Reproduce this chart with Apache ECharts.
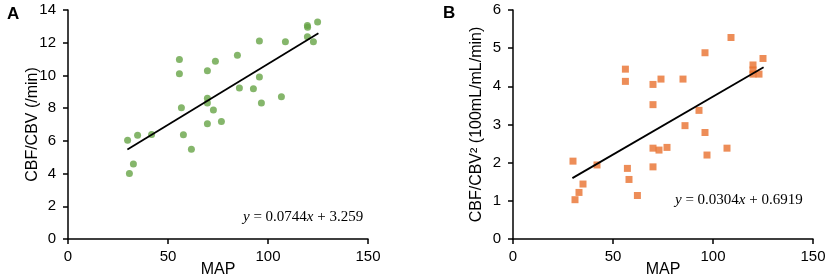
<!DOCTYPE html>
<html>
<head>
<meta charset="utf-8">
<script src="https://cdn.jsdelivr.net/npm/echarts@6/dist/echarts.min.js"></script>
<style>
html, body { margin: 0; padding: 0; background: #fff; }
#chart { width: 829px; height: 277px; }
</style>
</head>
<body>
<div id="chart"></div>
<script>
// 数据：A 图 MAP 与 CBF/CBV
var mapA = [29.8, 34.8, 41.8, 32.7, 30.7, 55.7, 55.7, 56.7, 57.7, 61.7,
            69.7, 73.7, 69.7, 69.7, 72.7, 69.7, 76.7, 84.7, 85.7, 92.7,
            95.7, 95.7, 96.7, 108.7, 106.7, 119.7, 119.8, 119.7, 122.7, 124.8];
var ratioA = [6.04, 6.35, 6.39, 4.58, 4.0, 10.98, 10.1, 8.03, 6.37, 5.49,
              10.29, 10.86, 8.6, 8.32, 7.89, 7.04, 7.18, 11.23, 9.23, 9.19,
              12.1, 9.9, 8.32, 12.06, 8.7, 13.06, 12.95, 12.37, 12.06, 13.26];

// 数据：B 图 MAP 与 CBF/CBV²
var mapB = [30, 31, 33, 35, 42, 56.2, 56.2, 57.2, 58, 62.2,
            70, 74, 70, 70, 73, 77, 70, 85, 86, 93,
            96, 96, 97, 109, 107, 120, 120, 120, 123, 125];
var ratioB = [2.04, 1.03, 1.22, 1.44, 1.94, 4.45, 4.13, 1.85, 1.56, 1.14,
              4.05, 4.19, 3.52, 2.38, 2.33, 2.4, 1.89, 4.19, 2.97, 3.37,
              4.88, 2.79, 2.2, 5.28, 2.38, 4.56, 4.43, 4.32, 4.32, 4.73];

// 趋势线
var fitA = { slope: 0.0744, intercept: 3.259, from: 29.7, to: 125.2 };
var fitB = { slope: 0.0304, intercept: 0.6919, from: 29.7, to: 125.3 };

function pairs(xs, ys) {
    var out = [];
    for (var i = 0; i < xs.length; i++) out.push([xs[i], ys[i]]);
    return out;
}
function fitLine(f) {
    return [[f.from, f.slope * f.from + f.intercept], [f.to, f.slope * f.to + f.intercept]];
}

var sans = 'Liberation Sans, Arial, sans-serif';
var serif = 'Liberation Serif, Times New Roman, serif';

function xAxisOf(idx) {
    return {
        gridIndex: idx, type: 'value', min: 0, max: 150, interval: 50,
        name: 'MAP', nameLocation: 'middle', nameGap: 23, nameMoveOverlap: false,
        nameTextStyle: { fontFamily: sans, fontSize: 16, color: '#000' },
        axisLine: { lineStyle: { color: '#000', width: 1.5 } },
        axisTick: { show: true, length: 5, lineStyle: { color: '#000', width: 1.5 } },
        axisLabel: { fontFamily: sans, fontSize: 15, color: '#000', margin: 10 },
        splitLine: { show: false }
    };
}
function yAxisOf(idx, max, interval, name, gap) {
    return {
        gridIndex: idx, type: 'value', min: 0, max: max, interval: interval,
        name: name, nameLocation: 'middle', nameGap: gap, nameMoveOverlap: false,
        nameTextStyle: { fontFamily: sans, fontSize: 16, color: '#000' },
        axisLine: { show: true, lineStyle: { color: '#000', width: 1.5 } },
        axisTick: { show: true, length: 5, lineStyle: { color: '#000', width: 1.5 } },
        axisLabel: { fontFamily: sans, fontSize: 15, color: '#000', margin: 12 },
        splitLine: { show: false }
    };
}

function eqText(left, top, slope, intercept) {
    return {
        type: 'text', left: left, top: top,
        style: {
            text: '{i|y} = ' + slope + '{i|x} + ' + intercept,
            fontFamily: serif, fontSize: 15, fill: '#000',
            rich: { i: { fontFamily: serif, fontSize: 15, fontStyle: 'italic', fill: '#000' } }
        }
    };
}

var myChart = echarts.init(document.getElementById('chart'));
var option = {
    animation: false,
    grid: [
        { left: 68, right: 461, top: 10, bottom: 38, containLabel: false, outerBoundsMode: 'none' },
        { left: 513, right: 16, top: 10, bottom: 38, containLabel: false, outerBoundsMode: 'none' }
    ],
    xAxis: [xAxisOf(0), xAxisOf(1)],
    yAxis: [
        yAxisOf(0, 14, 2, 'CBF/CBV (/min)', 27),
        yAxisOf(1, 6, 1, 'CBF/CBV² (100mL/mL/min)', 28)
    ],
    graphic: [
        { type: 'text', left: 7, top: 6, style: { text: 'A', fontFamily: sans, fontSize: 17, fontWeight: 'bold', fill: '#000' } },
        { type: 'text', left: 443, top: 5, style: { text: 'B', fontFamily: sans, fontSize: 17, fontWeight: 'bold', fill: '#000' } },
        eqText(243, 210, fitA.slope, fitA.intercept),
        eqText(675, 193, fitB.slope, fitB.intercept)
    ],
    series: [
        {
            type: 'scatter', xAxisIndex: 0, yAxisIndex: 0,
            symbol: 'circle', symbolSize: 7,
            itemStyle: { color: '#66A446' },
            data: pairs(mapA, ratioA)
        },
        {
            type: 'line', xAxisIndex: 0, yAxisIndex: 0,
            showSymbol: false, silent: true,
            lineStyle: { color: '#000', width: 1.8 },
            data: fitLine(fitA)
        },
        {
            type: 'scatter', xAxisIndex: 1, yAxisIndex: 1,
            symbol: 'rect', symbolSize: 7,
            itemStyle: { color: '#E8702E' },
            data: pairs(mapB, ratioB)
        },
        {
            type: 'line', xAxisIndex: 1, yAxisIndex: 1,
            showSymbol: false, silent: true,
            lineStyle: { color: '#000', width: 1.8 },
            data: fitLine(fitB)
        }
    ]
};
myChart.setOption(option);
</script>
</body>
</html>
